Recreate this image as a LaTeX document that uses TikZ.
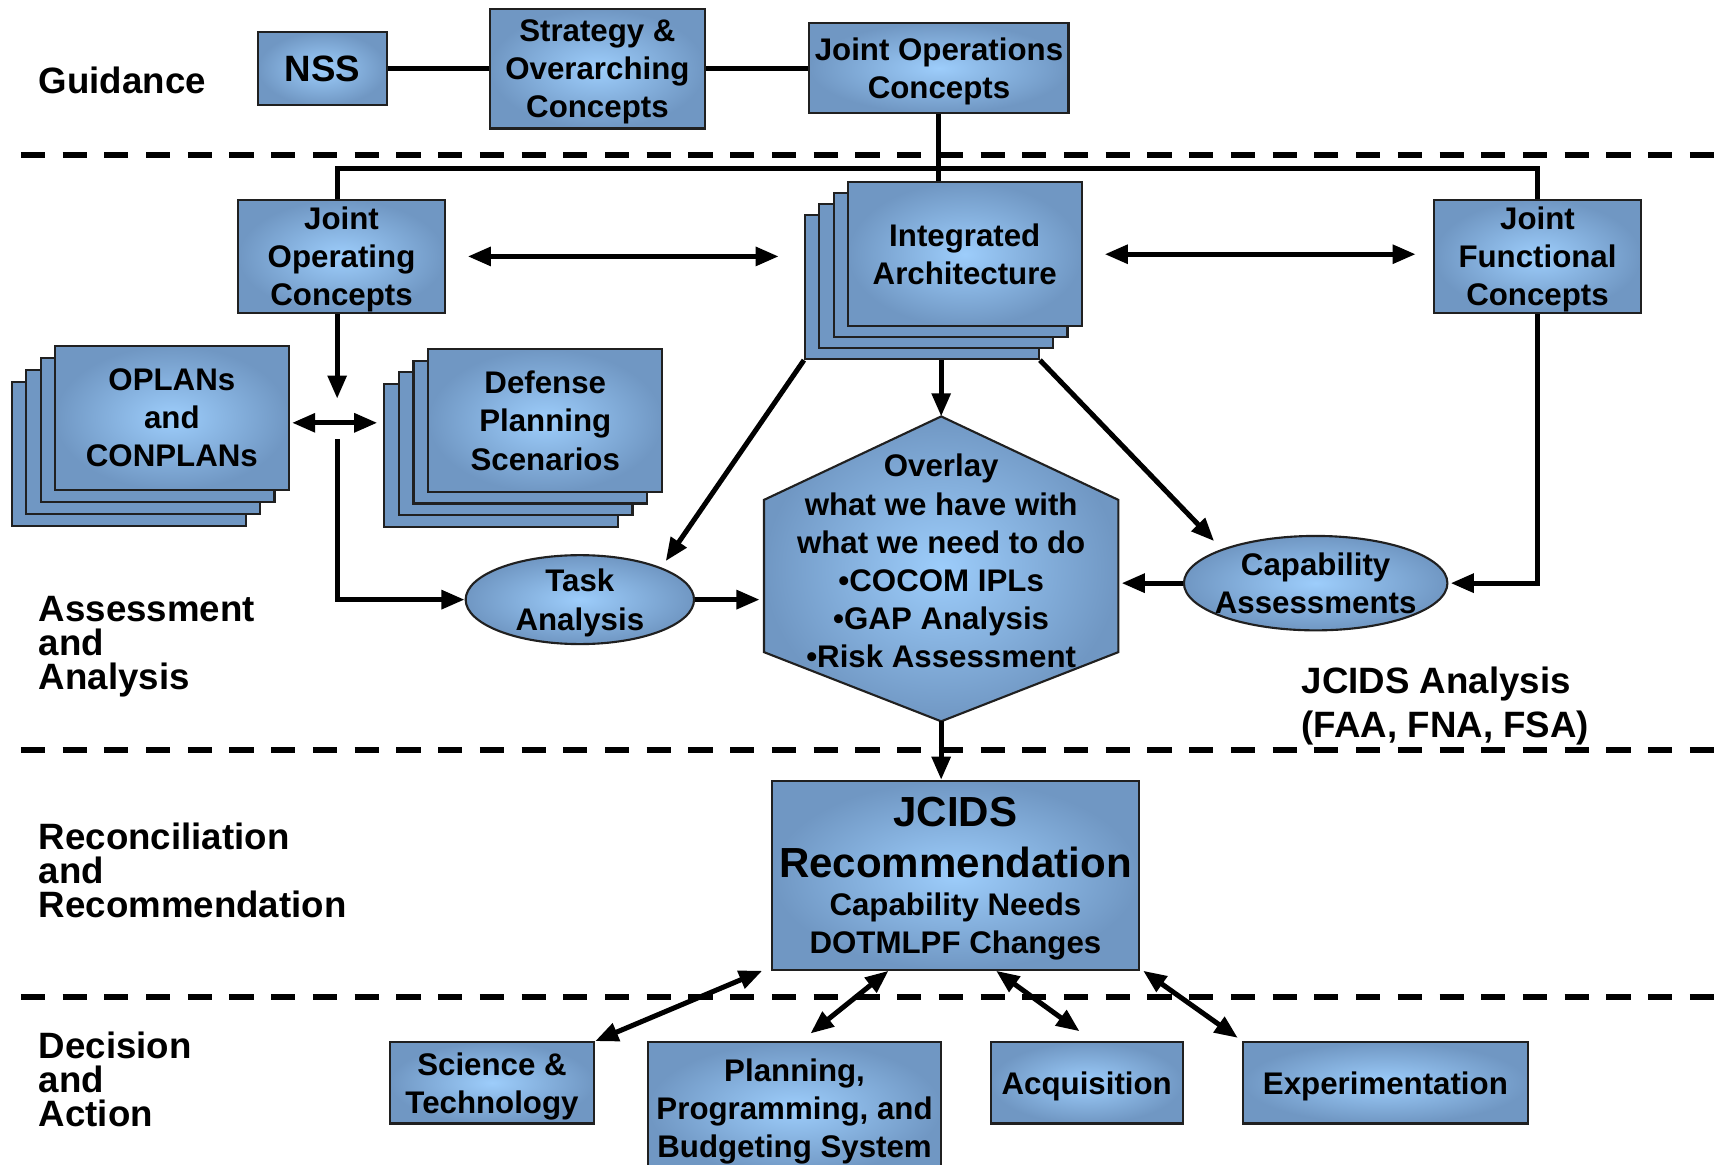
\documentclass[tikz,border=0pt]{standalone}
\usepackage{fontspec}
\setmainfont{Liberation Sans}
\usetikzlibrary{arrows.meta,positioning,calc,shapes.geometric}
\definecolor{jcedge}{HTML}{7097C3}
\definecolor{jccore}{HTML}{9DCDFB}
\definecolor{jcline}{HTML}{202020}
\newcommand{\jcbig}{\fontsize{21.8pt}{26.6pt}\selectfont}
\newcommand{\jcbody}{\fontsize{16.2pt}{19.8pt}\selectfont}
\tikzset{
 jc link/.style={line width=2.6pt,draw=black},
 jc flow/.style={jc link,-{Triangle[length=12pt,width=9.5pt]}},
 jc twoway/.style={jc link,{Triangle[length=12pt,width=9.5pt]}-{Triangle[length=12pt,width=9.5pt]}},
 jc block/.style={draw=jcline,line width=1.1pt,inner color=jccore,outer color=jcedge,
   inner sep=0pt,align=center,font=\bfseries\jcbody,text depth=-0.04cm},
 jc card/.style={draw=jcline,line width=1.1pt,fill=jcedge,
   minimum width=4.26cm,minimum height=2.62cm},
 jc bubble/.style={jc block,ellipse},
 jc label/.style={anchor=north west,inner sep=0pt,align=left,
   font=\bfseries\fontsize{19pt}{17.6pt}\selectfont},
 jc divider/.style={line width=2.8pt,dash pattern=on 0.44cm off 0.32cm}
}

\begin{document}
\begin{tikzpicture}[x=0.02cm,y=-0.02cm]
\useasboundingbox (0,0) rectangle (1568,1060);
% band separators
\foreach \y in {141,683,908}
  \draw[jc divider] (19,\y) -- (1590,\y);

% guidance
\node[jc block,minimum width=2.34cm,minimum height=1.34cm,
  font=\bfseries\fontsize{19pt}{22pt}\selectfont,text depth=-0.1cm] (nss) at (293.5,62.5) {NSS};
\node[jc block,minimum width=3.92cm,minimum height=2.18cm] (soc) at (544,62.5)
  {Strategy \&\\Overarching\\Concepts};
\node[jc block,minimum width=4.72cm,minimum height=1.64cm] (joc) at (855,62)
  {Joint Operations\\Concepts};
\draw[jc link] (nss.east) -- (soc.west);
\draw[jc link] (soc.east) -- (soc.east -| joc.west);

% assessment and analysis
\node[jc block,minimum width=3.76cm,minimum height=2.06cm] (jopc) at (311,233.5)
  {Joint\\Operating\\Concepts};
\node[jc block,minimum width=3.76cm,minimum height=2.06cm] (jfc) at (1400,233.5)
  {Joint\\Functional\\Concepts};
\foreach \k in {3,2,1}
  \node[jc card] (ia\k) at ({878.5-13*\k},{231.5+10*\k}) {};
\node[jc block,minimum width=4.26cm,minimum height=2.62cm,text depth=-0.1cm] (ia) at (878.5,231.5)
  {Integrated\\Architecture};
\foreach \k in {3,2,1}
  \node[jc card] (op\k) at ({156.5-13*\k},{380.5+11*\k}) {};
\node[jc block,minimum width=4.26cm,minimum height=2.62cm] (oplans) at (156.5,380.5)
  {OPLANs\\and\\CONPLANs};
\foreach \k in {3,2,1}
  \node[jc card,minimum height=2.6cm] (dps\k) at ({496.5-13.5*\k},{383+10.5*\k}) {};
\node[jc block,minimum width=4.26cm,minimum height=2.6cm] (dps) at (496.5,383)
  {Defense\\Planning\\Scenarios};
\node[jc bubble,minimum width=4.16cm,minimum height=1.62cm,text depth=-0.08cm] (task) at (528,546)
  {Task\\Analysis};
\node[jc bubble,minimum width=4.8cm,minimum height=1.72cm,text depth=-0.16cm] (capa) at (1198,531)
  {\makebox[0pt]{Capability}\\\makebox[0pt]{Assessments}};
\node[minimum width=6.44cm,minimum height=5.54cm,inner sep=0pt] (hex) at (857,518) {};
\shade[draw=jcline,line width=1.1pt,inner color=jccore,outer color=jcedge]
  (hex.north) -- ($(hex.north east)+(0,76)$) -- ($(hex.south east)+(0,-63)$)
  -- (hex.south) -- ($(hex.south west)+(0,-63)$) -- ($(hex.north west)+(0,76)$) -- cycle;
\node[align=center,inner sep=0pt,font=\bfseries\jcbody]
  (hexnote) at ([yshift=0.14cm]hex.center)
  {Overlay\\what we have with\\what we need to do\\•COCOM IPLs\\•GAP Analysis\\•Risk Assessment};
\node[jc label,font=\bfseries\fontsize{19pt}{22.7pt}\selectfont] (jana) at (1185,607)
  {JCIDS Analysis\\(FAA, FNA, FSA)};

\coordinate (bus) at (855,153);
\coordinate (hub) at (307,385);
\draw[jc link] (joc.south) -- (joc.south |- ia.north);
\draw[jc link] (hub |- jopc.north) |- (bus) -| (jfc.north);
\draw[jc twoway,shorten <=0.4cm,shorten >=0.46cm] (jopc.east) -- (jopc.east -| ia3.west);
\draw[jc twoway,shorten <=0.4cm,shorten >=0.32cm] (ia.east) -- (ia.east -| jfc.west);
\draw[jc flow,shorten >=0.44cm] (hub |- jopc.south) -- (hub);
\draw[jc twoway,shorten <=0.04cm,shorten >=0.1cm] (oplans.east |- hub) -- (dps3.west |- hub);
\draw[jc flow,shorten <=0.3cm] (hub) |- (task.west);
\draw[jc flow,shorten >=0.14cm] (ia3.south west) -- (task.north east);
\draw[jc flow] (ia3.south -| hex.north) -- (hex.north);
\draw[jc flow,shorten >=0.2cm] (ia3.south east) -- (capa.north west);
\draw[jc flow,shorten >=0.08cm] (task.east) -- (task.east -| hex.west);
\draw[jc flow,shorten >=0.06cm] (capa.west) -- (capa.west -| hex.east);
\draw[jc flow,shorten >=0.04cm] (jfc.south) |- (capa.east);

% reconciliation and recommendation
\node[jc block,minimum width=6.68cm,minimum height=3.44cm,text depth=-0.18cm] (rec) at (870,797)
  {\jcbig JCIDS\\[0.24cm]\jcbig Recommendation\\Capability Needs\\DOTMLPF Changes};
\draw[jc flow] (hex.south) -- (hex.south |- rec.north);

% decision and action
\node[jc block,minimum width=3.72cm,minimum height=1.48cm] (st) at (448,986)
  {Science \&\\Technology};
\node[jc block,minimum width=5.34cm,minimum height=2.4cm] (ppbs) at (723.5,1009)
  {Planning,\\Programming, and\\Budgeting System};
\node[jc block,minimum width=3.5cm,minimum height=1.48cm] (acq) at (989.5,986)
  {Acquisition};
\node[jc block,minimum width=5.18cm,minimum height=1.48cm] (exp) at (1261.5,986)
  {Experimentation};
\draw[jc twoway] ([xshift=-0.16cm]rec.south west) -- (st.north east);
\draw[jc twoway] ([xshift=2.14cm]rec.south west) -- ([xshift=0.29cm,yshift=0.14cm]ppbs.north);
\draw[jc twoway] ([xshift=4.1cm]rec.south west) -- ([xshift=-0.13cm,yshift=0.18cm]acq.north);
\draw[jc twoway] ([xshift=0.06cm]rec.south east) -- ([xshift=-0.08cm,yshift=0.06cm]exp.north west);

% band names
\node[jc label] (guid) at (35,61) {Guidance};
\node[jc label] (assess) at (35,543) {Assessment\\and\\Analysis};
\node[jc label] (recon) at (35,749) {Reconciliation\\and\\Recommendation};
\node[jc label] (decide) at (35,939) {Decision\\and\\Action};
\end{tikzpicture}
\end{document}
